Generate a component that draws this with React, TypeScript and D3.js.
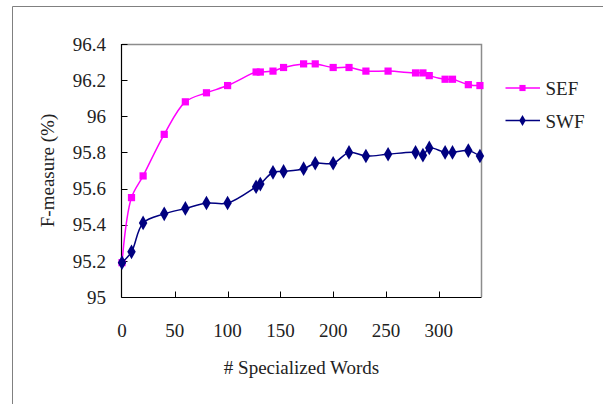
import React, { useRef, useEffect } from 'react';
import * as d3 from 'd3';

// # specialized words (shared by both series)
const words = [0, 9, 20, 40, 60, 80, 100, 127, 131, 143, 153, 172, 183, 200, 215, 231, 252, 278, 285, 291, 306, 313, 328, 339];
const sefValues = [95.19, 95.55, 95.67, 95.9, 96.08, 96.13, 96.17, 96.245, 96.245, 96.25, 96.27, 96.29, 96.29, 96.27, 96.27, 96.25, 96.25, 96.24, 96.24, 96.225, 96.205, 96.205, 96.175, 96.17];
const swfValues = [95.19, 95.25, 95.41, 95.46, 95.49, 95.52, 95.52, 95.61, 95.625, 95.69, 95.695, 95.71, 95.74, 95.74, 95.8, 95.78, 95.79, 95.8, 95.785, 95.825, 95.8, 95.8, 95.81, 95.78];
const yTicks = [95, 95.2, 95.4, 95.6, 95.8, 96, 96.2, 96.4];
const xTicks = [0, 50, 100, 150, 200, 250, 300];
const seriesNames = ['SEF', 'SWF'];

const App = () => {
  const svgRef = useRef<SVGSVGElement>(null);

  const w = 603;
  const h = 404;
  const margin = { top: 44, right: 122, bottom: 107, left: 122 };
  const font = "'Liberation Serif', serif";

  useEffect(() => {
    const svg = d3.select(svgRef.current);
    svg.selectAll('*').remove();

    const xScale = d3.scaleLinear().domain([0, 340]).range([margin.left, w - margin.right]);
    const yScale = d3.scaleLinear().domain([95, 96.4]).range([h - margin.bottom, margin.top]);

    // outer frame (cut off at the right and bottom)
    svg.append('path')
      .attr('d', `M12.5,${h} V6.5 H${w}`)
      .attr('fill', 'none')
      .attr('stroke', '#808080')
      .attr('stroke-width', 1);

    // plot area top / right border
    svg.append('path')
      .attr('d', `M${margin.left},${margin.top + 0.5} H${w - margin.right + 0.5} V${h - margin.bottom}`)
      .attr('fill', 'none')
      .attr('stroke', '#8c8c8c')
      .attr('stroke-width', 1.5);

    // axes
    const x0 = xScale(0) - 0.5;
    const y0 = yScale(95) + 0.5;
    svg.append('line')
      .attr('x1', x0).attr('x2', x0)
      .attr('y1', margin.top).attr('y2', y0)
      .attr('stroke', '#000').attr('stroke-width', 1.2);
    svg.append('line')
      .attr('x1', x0).attr('x2', w - margin.right + 0.5)
      .attr('y1', y0).attr('y2', y0)
      .attr('stroke', '#000').attr('stroke-width', 1.2);

    const addText = (sel: any) => sel
      .style('font-family', font)
      .style('font-size', '19px')
      .attr('fill', '#222');

    // y ticks + labels
    svg.selectAll('.ytick')
      .data(yTicks)
      .enter()
      .append('line')
      .attr('x1', x0).attr('x2', x0 + 6)
      .attr('y1', d => Math.round(yScale(d)) + 0.5)
      .attr('y2', d => Math.round(yScale(d)) + 0.5)
      .attr('stroke', '#000');
    svg.selectAll('.ylabel')
      .data(yTicks)
      .enter()
      .append('text')
      .call(addText)
      .attr('x', 106)
      .attr('y', d => yScale(d))
      .attr('dy', '0.35em')
      .attr('text-anchor', 'end')
      .text(d => String(+d.toFixed(1)));

    // x ticks + labels
    svg.selectAll('.xtick')
      .data(xTicks.slice(1))
      .enter()
      .append('line')
      .attr('x1', d => Math.round(xScale(d)) + 0.5)
      .attr('x2', d => Math.round(xScale(d)) + 0.5)
      .attr('y1', y0).attr('y2', y0 - 6)
      .attr('stroke', '#000');
    svg.selectAll('.xlabel')
      .data(xTicks)
      .enter()
      .append('text')
      .call(addText)
      .attr('x', d => xScale(d))
      .attr('y', 337)
      .attr('text-anchor', 'middle')
      .text(d => d);

    // axis titles
    svg.append('text')
      .call(addText)
      .attr('x', (xScale(0) + xScale(340)) / 2)
      .attr('y', 374)
      .attr('text-anchor', 'middle')
      .text('# Specialized Words');
    svg.append('text')
      .call(addText)
      .attr('transform', `translate(54,${(margin.top + h - margin.bottom) / 2}) rotate(-90)`)
      .attr('text-anchor', 'middle')
      .text('F-measure (%)');

    const line = d3.line<[number, number]>()
      .x(d => xScale(d[0]))
      .y(d => yScale(d[1]))
      .curve(d3.curveCatmullRom.alpha(0.5));

    const series = [
      { name: seriesNames[0], values: sefValues, color: '#ff00ff', symbol: d3.symbolSquare, size: 52, legendSize: 38 },
      { name: seriesNames[1], values: swfValues, color: '#000080', symbol: d3.symbolDiamond, size: 62, legendSize: 36 },
    ];

    series.forEach((s, i) => {
      const pts: [number, number][] = words.map((x, j) => [x, s.values[j]]);
      svg.append('path')
        .datum(pts)
        .attr('d', line)
        .attr('fill', 'none')
        .attr('stroke', s.color)
        .attr('stroke-width', 1.5);
      svg.selectAll('.pt' + i)
        .data(pts)
        .enter()
        .append('path')
        .attr('d', d3.symbol().type(s.symbol).size(s.size)())
        .attr('transform', d => `translate(${xScale(d[0])},${yScale(d[1])})`)
        .attr('fill', s.color);

      // legend
      const ly = 88 + i * 32.5;
      svg.append('line')
        .attr('x1', 505.5).attr('x2', 540)
        .attr('y1', ly).attr('y2', ly)
        .attr('stroke', s.color).attr('stroke-width', 1.5);
      svg.append('path')
        .attr('d', d3.symbol().type(s.symbol).size(s.legendSize)())
        .attr('transform', `translate(522.5,${ly})`)
        .attr('fill', s.color);
      svg.append('text')
        .call(addText)
        .attr('x', 545.5)
        .attr('y', ly + 7)
        .text(s.name);
    });
  }, []);

  return (
    <div style={{ position: 'absolute', left: 0, top: 0 }}>
      <svg ref={svgRef} width={w} height={h} style={{ display: 'block', background: '#fff' }}></svg>
    </div>
  );
};

export default App;
